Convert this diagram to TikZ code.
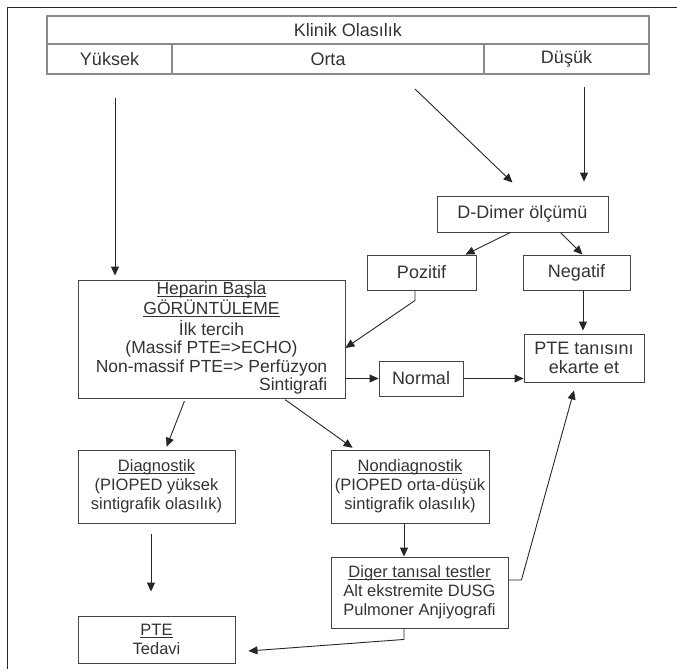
\documentclass[tikz,border=0pt]{standalone}
\usepackage{fontspec}
\setmainfont{Liberation Sans}
\usetikzlibrary{arrows.meta}
\definecolor{txt}{HTML}{333333}
\definecolor{boxline}{HTML}{444444}
\definecolor{tabline}{HTML}{8A8A8A}
\newcommand\myul[1]{\setbox0\hbox{#1}\rlap{\rule[-1.8pt]{\wd0}{0.7pt}}\box0}
\begin{document}
\begin{tikzpicture}[x=1pt,y=-1pt,
  box/.style={draw=boxline,line width=0.9pt,rectangle,inner sep=0pt,text=txt,align=center,font=\fontsize{18}{19.5}\selectfont},
  lowbox/.style={box,font=\fontsize{16.5}{19}\selectfont},
  cell/.style={draw=tabline,line width=1.6pt,rectangle,inner sep=0pt,text=txt,font=\fontsize{18}{19}\selectfont},
  arr/.style={draw=black!85,line width=0.9pt,-{Triangle[length=9pt,width=8pt]}},
  ln/.style={draw=black!85,line width=0.9pt}]
\useasboundingbox (0,0) rectangle (677,669);
\draw[ln] (7,669) -- (7,7) -- (677,7);
% table
\node[cell,minimum width=602pt,minimum height=28pt] (klinik) at (348,30) {Klinik Olasılık};
\node[cell,minimum width=125pt,minimum height=30pt] (yuksek) at (109.5,59) {Yüksek};
\node[cell,minimum width=312pt,minimum height=30pt] (orta) at (328,59) {Orta};
\node[cell,minimum width=165pt,minimum height=30pt] (dusuk) at (566.5,59) {Düşük};
% boxes
\node[box,minimum width=267pt,minimum height=118pt,font=\fontsize{17.5}{18.5}\selectfont] (hep) at (211.5,339)
  {\begin{tabular}{@{}c@{}}\myul{Heparin Başla}\\ \myul{GÖRÜNTÜLEME}\\ İlk tercih\\ (Massif PTE=>ECHO)\\ Non-massif PTE=> Perfüzyon\\ \multicolumn{1}{@{}r@{}}{Sintigrafi}\end{tabular}};
\node[box,minimum width=171pt,minimum height=36pt] (ddim) at (522.5,214) {D-Dimer ölçümü};
\node[box,minimum width=109pt,minimum height=35pt] (poz) at (421.5,272.5) {Pozitif};
\node[box,minimum width=107pt,minimum height=35pt] (neg) at (576.5,272.5) {Negatif};
\node[box,minimum width=120pt,minimum height=48pt] (ekarte) at (584,358) {PTE tanısını\\ ekarte et};
\node[box,minimum width=84pt,minimum height=35pt] (normal) at (421,378.5) {Normal};
\node[lowbox,minimum width=157pt,minimum height=73pt] (diag) at (156.5,486.5) {\myul{Diagnostik}\\ (PIOPED yüksek\\ sintigrafik olasılık)};
\node[lowbox,minimum width=158pt,minimum height=73pt] (nondiag) at (410,486.5) {\myul{Nondiagnostik}\\ (PIOPED orta-düşük\\ sintigrafik olasılık)};
\node[lowbox,minimum width=177pt,minimum height=71pt] (diger) at (419.5,592.5) {\myul{Diger tanısal testler}\\ Alt ekstremite DUSG\\ Pulmoner Anjiyografi};
\node[lowbox,minimum width=157pt,minimum height=47pt] (pte) at (156.5,639.5) {\myul{PTE}\\ Tedavi};
% free starts
\coordinate (ys) at (115,98);
\coordinate (os) at (415,89);
\coordinate (ds) at (584,87);
% connectors
\draw[arr,shorten >=4pt] (ys) -- (ys |- hep.north);
\draw[arr] (os) -- ([xshift=-10pt,yshift=13pt]ddim.north);
\draw[arr,shorten >=14pt] (ds) -- (ds |- ddim.north);
\draw[arr] ([xshift=-12pt]ddim.south) -- ([xshift=44pt]poz.north);
\draw[arr] ([xshift=38pt]ddim.south) -- ([xshift=6pt]neg.north);
\draw[arr] ([xshift=-6.5pt]poz.south) -- ++(0,10) -- ([yshift=-9pt]hep.east);
\draw[arr,shorten >=3pt] ([xshift=6.5pt]neg.south) -- ([xshift=6.5pt]neg.south |- ekarte.north);
\draw[arr] (normal.west -| hep.east) -- (normal.west);
\draw[arr] (normal.east) -- (normal.east -| ekarte.west);
\draw[arr,shorten <=3pt,shorten >=3pt] ([xshift=-26pt]hep.south) -- ([xshift=9pt]diag.north);
\draw[arr,shorten <=2pt,shorten >=3pt] ([xshift=72pt]hep.south) -- ([xshift=-55pt]nondiag.north);
\draw[arr] ([xshift=-6pt]nondiag.south) -- ([xshift=-6pt]nondiag.south |- diger.north);
\draw[arr,shorten <=11pt,shorten >=24pt] ([xshift=-5.5pt]diag.south) -- ([xshift=-5.5pt]diag.south |- pte.north);
\draw[arr] ([xshift=-15.5pt]diger.south) -- ++(0,11) -- ([xshift=13pt,yshift=-11.5pt]pte.east);
\draw[arr] ([yshift=12.5pt]diger.east) -- ++(13,0) -- ([xshift=-10pt,yshift=-8pt]ekarte.south);
\end{tikzpicture}
\end{document}
